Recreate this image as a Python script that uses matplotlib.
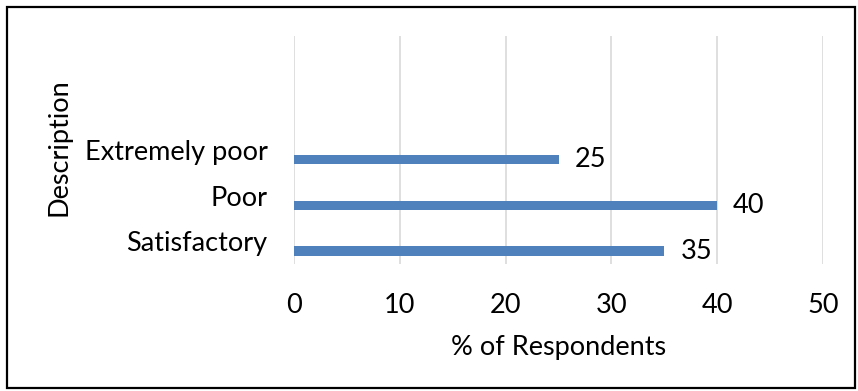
import matplotlib
matplotlib.use("Agg")
import matplotlib.pyplot as plt
from matplotlib.patches import Rectangle

categories = ["Satisfactory", "Poor", "Extremely poor"]
respondents_pct = [35, 40, 25]
x_ticks = [0, 10, 20, 30, 40, 50]

W, H, DPI = 858, 391, 100
plt.rcParams["font.family"] = ["Lato", "DejaVu Sans"]
FS = 19.5

fig = plt.figure(figsize=(W / DPI, H / DPI), dpi=DPI)
fig.patch.set_facecolor("white")

# axes box in pixel coordinates (left, top, right, bottom)
left, top, right, bottom = 294, 36, 823, 264
ax = fig.add_axes([left / W, 1 - bottom / H, (right - left) / W, (bottom - top) / H])

n_slots = 5
pos = list(range(len(categories)))
bar_offset = -0.215
bar_h = 0.2
ax.barh([p + bar_offset for p in pos], respondents_pct, height=bar_h,
        color="#4F81BD", edgecolor="none", zorder=3)

for p, v in zip(pos, respondents_pct):
    ax.annotate(f"{v}", xy=(v, p + bar_offset), xytext=(16, 0),
                textcoords="offset pixels", ha="left", va="center",
                fontsize=FS, color="black")

ax.set_xlim(0, 50)
ax.set_ylim(-0.5, n_slots - 0.5)
ax.set_xticks(x_ticks)
ax.set_xticklabels([str(t) for t in x_ticks])
ax.set_yticks(pos)
ax.set_yticklabels(categories)
ax.tick_params(axis="both", length=0, labelsize=FS)
ax.tick_params(axis="x", pad=21)
ax.tick_params(axis="y", pad=19)

ax.grid(axis="x", color="#D9D9D9", linewidth=1.2, zorder=0)
ax.set_axisbelow(True)
for s in ax.spines.values():
    s.set_visible(False)

ax.set_xlabel("% of Respondents", fontsize=FS, labelpad=12)
fig.text(59 / W, 1 - 147 / H, "Description", rotation=90, ha="center",
         va="center", fontsize=FS)

# outer frame
fig.patches.append(Rectangle((6.5 / W, 3 / H), (855 - 6.5) / W, (H - 6.5 - 3) / H,
                             transform=fig.transFigure, fill=False,
                             edgecolor="black", linewidth=1.6))

fig.savefig("out.png", dpi=DPI, facecolor="white")
